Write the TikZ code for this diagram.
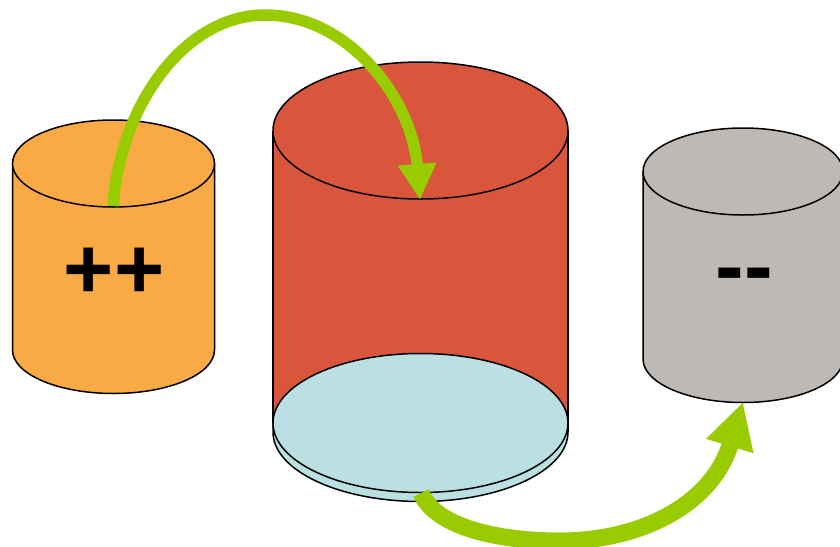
\documentclass[tikz,border=0pt]{standalone}
\usepackage{fontspec}
\setmainfont{Liberation Sans}
\usetikzlibrary{arrows.meta}
\definecolor{cylorange}{HTML}{FAAA44}
\definecolor{cylred}{HTML}{D9563C}
\definecolor{cylblue}{HTML}{BBE0E3}
\definecolor{cylgray}{HTML}{BEB9B5}
\definecolor{arrowgreen}{HTML}{99CC00}
\begin{document}
\begin{tikzpicture}[x=1pt,y=1pt,
  outline/.style={draw=black,line width=1.5pt},
  flow/.style={draw=arrowgreen,line width=11.5pt,-{Triangle[width=36pt,length=36pt]}},
  bigflow/.style={draw=arrowgreen,line width=17pt,-{Triangle[width=46pt,length=46pt]}},
  bigtext/.style={font=\fontsize{86}{90}\selectfont\bfseries,inner sep=0pt,anchor=base}]
\useasboundingbox (0,0) rectangle (840,-546);
% left cylinder
\fill[cylorange] (12.5,-163.5) -- (12.5,-350) arc[start angle=180,end angle=360,x radius=101,y radius=43.5] -- (214.5,-163.5) -- cycle;
\draw[outline] (12.5,-163.5) -- (12.5,-350) arc[start angle=180,end angle=360,x radius=101,y radius=43.5] -- (214.5,-163.5);
\draw[outline,fill=cylorange] (113.5,-163.5) ellipse[x radius=101,y radius=43.5];
\node[bigtext] (plus) at (114,-298) {++};
% middle cylinder
\fill[cylred] (273,-130.5) rectangle (568,-423);
\draw[outline] (273,-130.5) -- (273,-423) (568,-130.5) -- (568,-423);
\draw[outline,fill=cylred] (420.5,-130.5) ellipse[x radius=147.5,y radius=68.5];
\draw[outline,fill=cylblue] (273,-423) -- (273,-432) arc[start angle=180,end angle=360,x radius=147.5,y radius=69.5] -- (568,-423) -- cycle;
\draw[outline,fill=cylblue] (420.5,-423) ellipse[x radius=147.5,y radius=69.5];
% right cylinder
\fill[cylgray] (643,-171.5) -- (643,-359) arc[start angle=180,end angle=360,x radius=100,y radius=43.5] -- (843,-171.5) -- cycle;
\draw[outline] (643,-171.5) -- (643,-359) arc[start angle=180,end angle=360,x radius=100,y radius=43.5] -- (843,-171.5);
\draw[outline,fill=cylgray] (743,-171.5) ellipse[x radius=100,y radius=43.5];
\node[bigtext] (minus) at (744,-295) {-{}-};
% arrows
\coordinate (a1s) at (113,-206);
\coordinate (a1p) at (265,-15);
\coordinate (a1e) at (420,-200);
\coordinate (a2s) at (421,-493);
\coordinate (a2b) at (560,-541);
\coordinate (a2e) at (743,-402);
\draw[flow] (a1s) .. controls (120,-105) and (185,-15) .. (a1p) .. controls (350,-15) and (412,-100) .. (a1e);
\draw[bigflow] (a2s) .. controls (436,-528) and (500,-541) .. (a2b) .. controls (640,-541) and (712,-505) .. (a2e);
\end{tikzpicture}
\end{document}
